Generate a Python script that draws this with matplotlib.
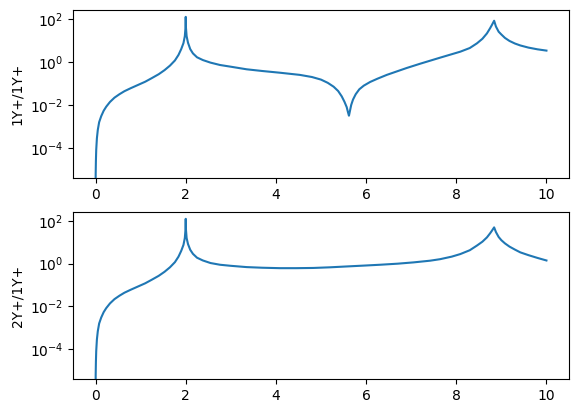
import numpy as np
import matplotlib
matplotlib.use('Agg')
import matplotlib.pyplot as plt

# rising part before the first resonance (same for both panels)
x_left = [0.0, 0.003, 0.008, 0.015, 0.03, 0.05, 0.08, 0.126, 0.18, 0.237, 0.32,
          0.42, 0.53, 0.64, 0.78, 0.94, 1.1, 1.24, 1.4, 1.53, 1.65, 1.76, 1.84,
          1.9, 1.95, 1.98, 1.995, 2.0]
left_log10 = [-7.0, -5.2, -4.6, -4.09, -3.55, -3.16, -2.8, -2.52, -2.27, -2.08, -1.86,
              -1.66, -1.5, -1.36, -1.22, -1.07, -0.92, -0.76, -0.57, -0.38, -0.17, 0.07, 0.33,
              0.6, 0.88, 1.2, 1.6, 2.1]

# 1Y+/1Y+ after x = 2
x_top = [2.005, 2.02, 2.05, 2.1, 2.16, 2.25, 2.38, 2.55, 2.76, 3.0, 3.35, 3.7,
         4.09, 4.53, 4.8, 5.0, 5.15, 5.28, 5.38, 5.46, 5.52, 5.57, 5.6, 5.62,
         5.64, 5.67, 5.71, 5.77, 5.85, 5.95, 6.09, 6.25, 6.46, 6.9, 7.2, 7.64,
         8.09, 8.3, 8.46, 8.58, 8.68, 8.75, 8.79, 8.84, 8.88, 8.94, 9.0, 9.08,
         9.18, 9.3, 9.42, 9.6, 9.8, 10.0]
top_log10 = [1.6, 1.2, 0.9, 0.6, 0.40, 0.22, 0.09, -0.03, -0.14, -0.22, -0.34, -0.42,
             -0.50, -0.60, -0.70, -0.82, -0.97, -1.15, -1.35, -1.6, -1.85, -2.1, -2.35, -2.5,
             -2.3, -2.0, -1.75, -1.5, -1.27, -1.1, -0.93, -0.78, -0.60, -0.28, -0.08, 0.2,
             0.48, 0.65, 0.87, 1.08, 1.33, 1.57, 1.72, 1.92, 1.65, 1.41, 1.28, 1.12,
             0.98, 0.86, 0.77, 0.67, 0.59, 0.53]

# 2Y+/1Y+ after x = 2
x_bot = [2.005, 2.02, 2.05, 2.1, 2.16, 2.25, 2.38, 2.55, 2.76, 3.0, 3.35, 3.7,
         4.09, 4.45, 4.83, 5.2, 5.57, 5.95, 6.31, 6.7, 7.05, 7.42, 7.64, 7.9,
         8.09, 8.3, 8.46, 8.58, 8.68, 8.75, 8.79, 8.84, 8.88, 8.94, 9.0, 9.08,
         9.18, 9.3, 9.42, 9.6, 9.8, 10.0]
bot_log10 = [1.6, 1.2, 0.92, 0.65, 0.46, 0.28, 0.15, 0.03, -0.05, -0.10, -0.16, -0.19,
             -0.21, -0.21, -0.20, -0.17, -0.13, -0.09, -0.05, 0.0, 0.06, 0.14, 0.21, 0.33,
             0.45, 0.63, 0.85, 1.03, 1.23, 1.42, 1.54, 1.70, 1.48, 1.25, 1.1, 0.95,
             0.8, 0.66, 0.53, 0.4, 0.27, 0.15]

labels = ['1Y+/1Y+', '2Y+/1Y+']

fig = plt.figure(figsize=(5.78, 4.13), dpi=100)
ax1 = fig.add_axes([0.1263, 0.569, 0.8581, 0.4068])
ax2 = fig.add_axes([0.1263, 0.0823, 0.8581, 0.4044])

panels = [(ax1, x_top, top_log10, labels[0]), (ax2, x_bot, bot_log10, labels[1])]
for ax, xr, ylog, lab in panels:
    x = np.array(x_left + xr)
    y = 10 ** np.array(left_log10 + ylog)
    ax.plot(x, y, color='#1f77b4', linewidth=1.5)
    ax.set_yscale('log')
    ax.set_ylim(10 ** -5.4, 10 ** 2.42)
    ax.set_xlim(-0.5, 10.5)
    ax.set_yticks([1e-4, 1e-2, 1e0, 1e2])
    ax.set_ylabel(lab)

fig.savefig('out.png', dpi=100)
